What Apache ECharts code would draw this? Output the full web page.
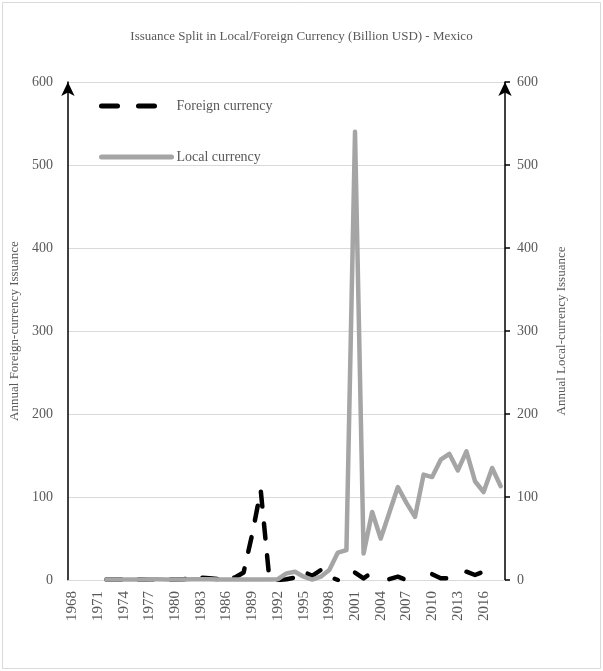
<!DOCTYPE html>
<html>
<head>
<meta charset="utf-8">
<script src="https://cdn.jsdelivr.net/npm/echarts@6/dist/echarts.min.js"></script>
<style>
html,body{margin:0;padding:0;background:#fff;}
#chart{width:603px;height:671px;}
</style>
</head>
<body>
<div id="chart"></div>
<script>
var years = [];
for (var y = 1968; y <= 2018; y++) years.push(String(y));

var foreignCurrency = [
  null, null, null, null,
  0.5, 0.5, 0.5, 0.5, 0.5, 1, 1, 0.5, 0.5, 1,
  2, 3, 2, 1, 2, 3, 9, 55, 108, 2,
  0, 1, 3, 10, 5, 12, 4, 0, null, 9,
  2, 9, null, 1, 4, 0, null, null, 7, 2,
  2, null, 10, 6, 10, null, null
];

var localCurrency = [
  null, null, null, null,
  0.5, 0.5, 0.5, 0.5, 0.5, 1, 1, 0.5, 0.5, 0.5,
  1, 1, 1, 0.5, 0.5, 0.5, 0.5, 0.5, 0.5, 0.5,
  1, 8, 10, 4, 0.5, 4, 12, 33, 36, 540,
  32, 82, 50, 81, 112, 93, 76, 127, 124, 145,
  152, 132, 155, 119, 106, 135, 113
];

var titleText = 'Issuance Split in Local/Foreign Currency (Billion USD) - Mexico';
var leftAxisName = 'Annual Foreign-currency Issuance';
var rightAxisName = 'Annual Local-currency Issuance';

var serif = '"Liberation Serif", "DejaVu Serif", serif';
var txt = '#595959';

var chart = echarts.init(document.getElementById('chart'));
chart.setOption({
  animation: false,
  backgroundColor: '#fff',
  graphic: [{
    type: 'rect',
    shape: {x: 2.5, y: 2.5, width: 598, height: 666},
    style: {fill: 'none', stroke: '#d9d9d9', lineWidth: 1},
    silent: true
  }],
  title: {
    text: titleText,
    left: 'center',
    top: 25,
    textStyle: {fontFamily: serif, fontSize: 13, fontWeight: 'normal', color: txt}
  },
  legend: {
    orient: 'vertical',
    left: 94,
    top: 94,
    itemWidth: 70,
    itemHeight: 14,
    itemGap: 37,
    itemStyle: {opacity: 0, borderWidth: 0},
    lineStyle: {width: 5, cap: 'round'},
    data: [
      {name: 'Foreign currency', lineStyle: {width: 5, type: [16, 21], cap: 'round'}},
      {name: 'Local currency', lineStyle: {width: 5, type: 'solid', cap: 'round'}}
    ],
    textStyle: {fontFamily: serif, fontSize: 14, color: txt}
  },
  grid: {left: 67, right: 98, top: 82, bottom: 91},
  xAxis: {
    type: 'category',
    data: years,
    boundaryGap: true,
    axisLine: {lineStyle: {color: '#d9d9d9', width: 1}},
    axisTick: {show: false},
    axisLabel: {
      interval: 2,
      rotate: 90,
      margin: 11,
      fontFamily: serif,
      fontSize: 15,
      color: txt
    },
    splitLine: {show: false}
  },
  yAxis: [{
    type: 'value',
    min: 0, max: 600, interval: 100,
    position: 'left',
    name: leftAxisName,
    nameLocation: 'middle',
    nameGap: 37,
    nameTextStyle: {fontFamily: serif, fontSize: 13, color: txt},
    axisLine: {show: true, symbol: ['none', 'arrow'], symbolSize: [10, 14], lineStyle: {color: '#000', width: 1.5}},
    axisTick: {show: false},
    axisLabel: {fontFamily: serif, fontSize: 14, color: txt, margin: 15},
    splitLine: {show: true, lineStyle: {color: '#d9d9d9', width: 1}}
  }, {
    type: 'value',
    min: 0, max: 600, interval: 100,
    position: 'right',
    name: rightAxisName,
    nameLocation: 'middle',
    nameGap: 50,
    nameTextStyle: {fontFamily: serif, fontSize: 13, color: txt},
    axisLine: {show: true, symbol: ['none', 'arrow'], symbolSize: [10, 14], lineStyle: {color: '#000', width: 1.5}},
    axisTick: {show: true, inside: false, length: 5, lineStyle: {color: '#000', width: 1.5}},
    axisLabel: {fontFamily: serif, fontSize: 14, color: txt, margin: 12},
    splitLine: {show: false}
  }],
  series: [{
    name: 'Foreign currency',
    type: 'line',
    yAxisIndex: 0,
    data: foreignCurrency,
    symbol: 'none',
    showSymbol: false,
    color: '#000',
    lineStyle: {color: '#000', width: 4.5, type: [15, 17], cap: 'round', join: 'round'}
  }, {
    name: 'Local currency',
    type: 'line',
    yAxisIndex: 1,
    data: localCurrency,
    symbol: 'none',
    showSymbol: false,
    color: '#a5a5a5',
    lineStyle: {color: '#a5a5a5', width: 4.5, cap: 'round', join: 'round'}
  }]
});
</script>
</body>
</html>
